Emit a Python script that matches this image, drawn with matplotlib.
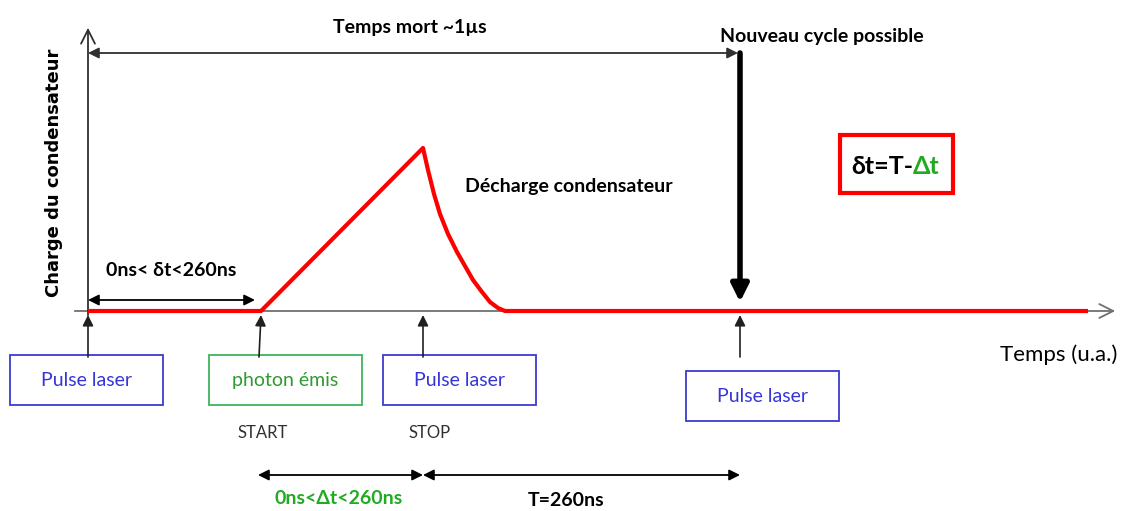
import matplotlib.pyplot as plt
from matplotlib.patches import Rectangle

# time axis in arbitrary units, origin = first laser pulse
t_laser = 0
t_photon = 173
t_stop = 335
t_new = 652
t_axis_end = 1030
charge_top = 286

# capacitor charge curve
curve_t = [0, 173, 335, 340, 346, 352, 360, 369, 377, 385, 394, 402, 410, 417, 1000]
curve_q = [0, 0, 163, 141, 117, 97, 77, 59, 45, 31, 19, 9, 3, 0, 0]

# boxes under the time axis: (left, top, label, text colour, edge colour)
boxes = [
    (-78, -44, "Pulse laser", "#3535d8", "#3c3cd0"),
    (121, -44, "photon émis", "#2f9a2f", "#3cb35a"),
    (295, -44, "Pulse laser", "#3535d8", "#3c3cd0"),
    (598, -60, "Pulse laser", "#3535d8", "#3c3cd0"),
]
box_w, box_h = 153, 50
arrow_x = [(t_laser, t_laser), (t_photon - 2, t_photon), (t_stop, t_stop), (t_new, t_new)]

calibri = ["Lato", "DejaVu Sans"]

fig = plt.figure(figsize=(11.25, 5.11), dpi=100)
ax = fig.add_axes([0, 0, 1, 1])
ax.set_xlim(-88, 1037)
ax.set_ylim(-200, 311)
ax.axis("off")

# axes of the diagram
ax.annotate("", xy=(t_axis_end, 0), xytext=(-16, 0),
            arrowprops=dict(arrowstyle="->", color="#707070", lw=1.3, mutation_scale=25))
ax.annotate("", xy=(t_laser, charge_top), xytext=(t_laser, -7),
            arrowprops=dict(arrowstyle="->", color="#303030", lw=1.3, mutation_scale=25))

ax.plot(curve_t, curve_q, color="#ff0000", lw=3, solid_capstyle="butt",
        solid_joinstyle="round", zorder=3)

# dead time arrow
ax.annotate("", xy=(t_laser, 258), xytext=(t_new - 2, 258),
            arrowprops=dict(arrowstyle="<|-|>", color="#303030", lw=1.3, mutation_scale=16,
                            shrinkA=0, shrinkB=0))
ax.text(322, 284, "Temps mort ~1µs", family=calibri, weight="bold", fontsize=14,
        ha="center", va="center")
ax.text(734, 275, "Nouveau cycle possible", family=calibri, weight="bold", fontsize=14,
        ha="center", va="center")
ax.annotate("", xy=(t_new, 9), xytext=(t_new, 258),
            arrowprops=dict(arrowstyle="-|>", color="black", lw=4, mutation_scale=26,
                            shrinkA=0, shrinkB=0))

ax.text(377, 125, "Décharge condensateur", family=calibri, weight="bold", fontsize=14,
        ha="left", va="center")
ax.text(-34, 138, "Charge du condensateur", family="DejaVu Sans", weight="bold", fontsize=13,
        rotation=90, ha="center", va="center")

# delta t box
ax.add_patch(Rectangle((752, 118), 113, 58, fill=False, ec="#ff0000", lw=3))
ax.text(825, 145, "δt=T-", family=calibri, weight="bold", fontsize=18, ha="right", va="center")
ax.text(825, 145, "Δt", family=calibri, weight="bold", fontsize=18, color="#22aa22",
        ha="left", va="center")

# 0 < dt < 260
ax.annotate("", xy=(t_laser, 11), xytext=(t_photon - 6, 11),
            arrowprops=dict(arrowstyle="<|-|>", color="black", lw=1.3, mutation_scale=16,
                            shrinkA=0, shrinkB=0))
ax.text(83, 41, "0ns< δt<260ns", family=calibri, weight="bold", fontsize=14,
        ha="center", va="center")

# boxes and arrows to the axis
for (x0, top, label, tc, ec), (xb, xt) in zip(boxes, arrow_x):
    ax.add_patch(Rectangle((x0, top - box_h), box_w, box_h, fill=False, ec=ec, lw=1.3))
    ax.text(x0 + box_w / 2, top - box_h / 2, label, family=calibri, fontsize=14,
            color=tc, ha="center", va="center")
    ax.annotate("", xy=(xt, -4), xytext=(xb, -46),
                arrowprops=dict(arrowstyle="-|>", color="#202020", lw=1.2, mutation_scale=16,
                                shrinkA=0, shrinkB=0))

ax.text(971, -44, "Temps (u.a.)", family=calibri, fontsize=16, ha="center", va="center")
ax.text(t_photon + 2, -122, "START", family=calibri, fontsize=12, color="#303030",
        ha="center", va="center")
ax.text(t_stop + 7, -122, "STOP", family=calibri, fontsize=12, color="#303030",
        ha="center", va="center")

# bottom arrows
ax.annotate("", xy=(t_photon - 3, -164), xytext=(t_stop, -164),
            arrowprops=dict(arrowstyle="<|-|>", color="black", lw=1.3, mutation_scale=16,
                            shrinkA=0, shrinkB=0))
ax.annotate("", xy=(t_stop, -164), xytext=(t_new, -164),
            arrowprops=dict(arrowstyle="<|-|>", color="black", lw=1.3, mutation_scale=16,
                            shrinkA=0, shrinkB=0))
ax.text(251, -187, "0ns<Δt<260ns", family=calibri, weight="bold", fontsize=14,
        color="#22aa22", ha="center", va="center")
ax.text(478, -189, "T=260ns", family=calibri, weight="bold", fontsize=14,
        ha="center", va="center")

fig.savefig("out.png", dpi=100)
